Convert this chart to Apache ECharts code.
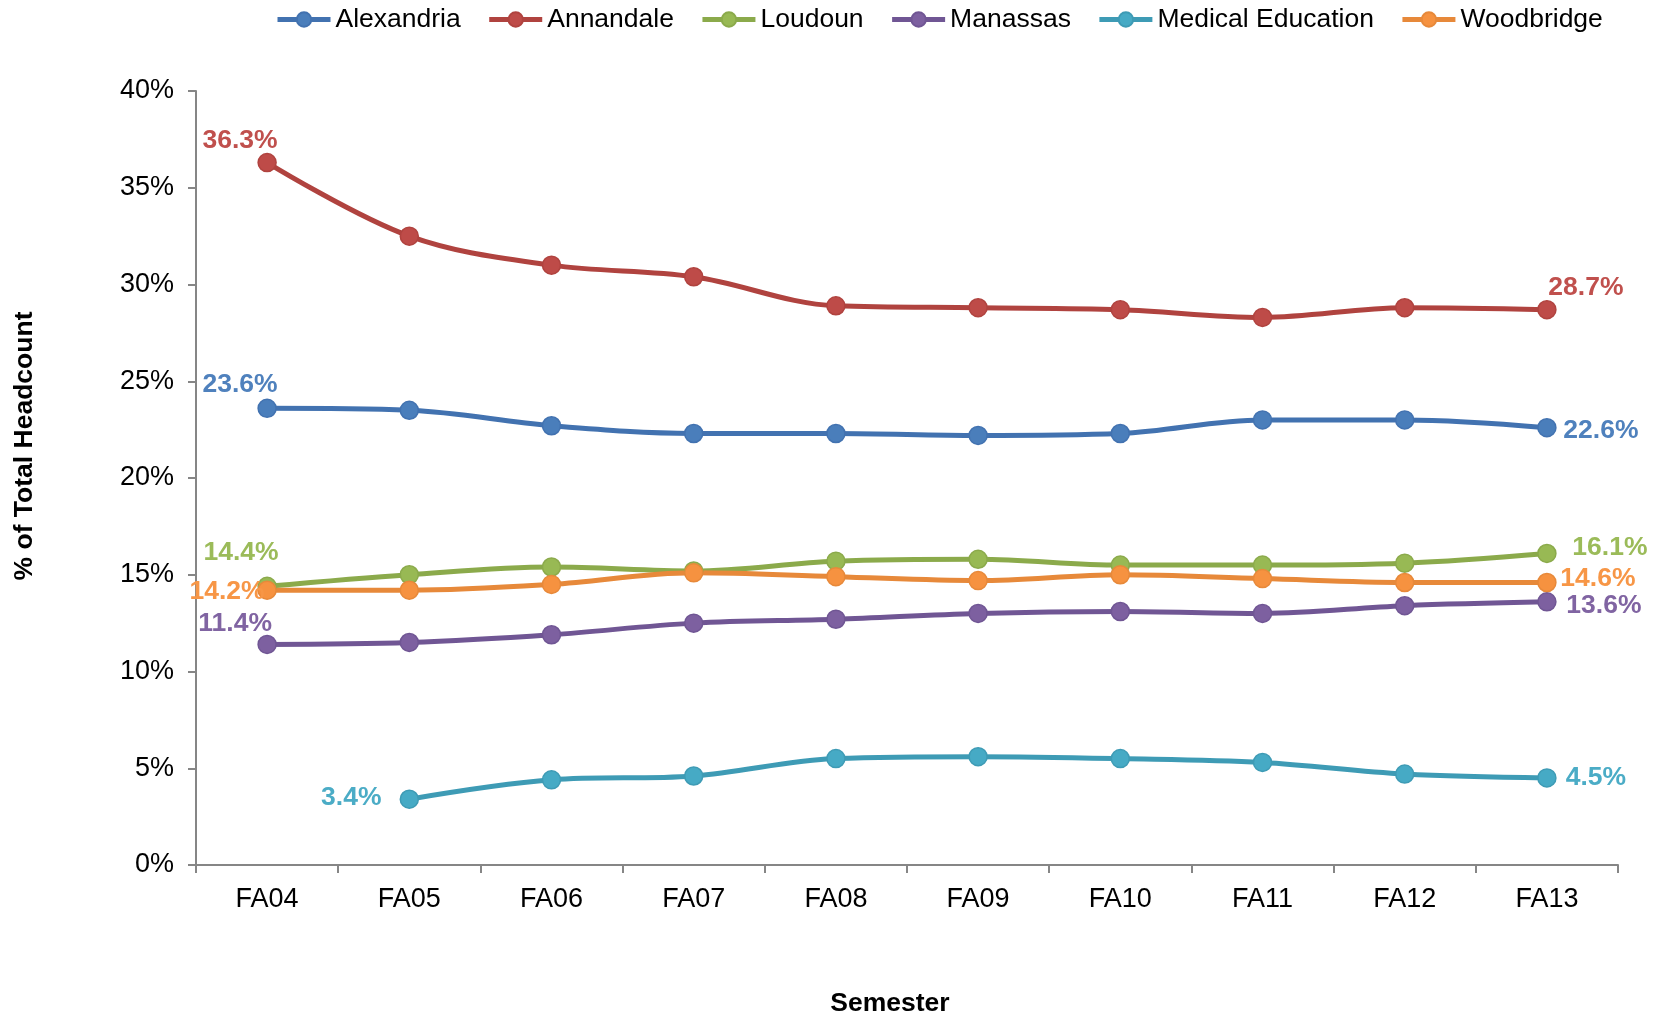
<!DOCTYPE html>
<html>
<head>
<meta charset="utf-8">
<script src="https://cdn.jsdelivr.net/npm/echarts@6/dist/echarts.min.js"></script>
<style>
  html, body { margin: 0; padding: 0; background: #ffffff; }
  #chart { width: 1658px; height: 1021px; }
</style>
</head>
<body>
<div id="chart"></div>
<script>
// Share of total headcount by campus, fall semesters
const semesters = ['FA04', 'FA05', 'FA06', 'FA07', 'FA08', 'FA09', 'FA10', 'FA11', 'FA12', 'FA13'];

const alexandria = [23.6, 23.5, 22.7, 22.3, 22.3, 22.2, 22.3, 23.0, 23.0, 22.6];
const annandale = [36.3, 32.5, 31.0, 30.4, 28.9, 28.8, 28.7, 28.3, 28.8, 28.7];
const loudoun = [14.4, 15.0, 15.4, 15.2, 15.7, 15.8, 15.5, 15.5, 15.6, 16.1];
const manassas = [11.4, 11.5, 11.9, 12.5, 12.7, 13.0, 13.1, 13.0, 13.4, 13.6];
const medicalEducation = [null, 3.4, 4.4, 4.6, 5.5, 5.6, 5.5, 5.3, 4.7, 4.5];
const woodbridge = [14.2, 14.2, 14.5, 15.1, 14.9, 14.7, 15.0, 14.8, 14.6, 14.6];

const yTicks = [0, 5, 10, 15, 20, 25, 30, 35, 40];

const FONT = '"Liberation Sans", Arial, sans-serif';

// Per-series styling: line colour, marker fill, label colour, end-label offsets
const seriesDefs = [
  { name: 'Alexandria', data: alexandria, line: '#4272B0', fill: '#4A7EBB', text: '#4F81BD',
    firstOffset: [-27, -24], lastOffset: [54, 3] },
  { name: 'Annandale', data: annandale, line: '#B0433F', fill: '#BE4B48', text: '#C0504D',
    firstOffset: [-27, -22], lastOffset: [39, -22] },
  { name: 'Loudoun', data: loudoun, line: '#8BAA4B', fill: '#98B954', text: '#9BBB59',
    firstOffset: [-26, -34], lastOffset: [63, -6] },
  { name: 'Manassas', data: manassas, line: '#705694', fill: '#7D60A0', text: '#8064A2',
    firstOffset: [-32, -21], lastOffset: [57, 4] },
  { name: 'Medical Education', data: medicalEducation, line: '#3E9BB5', fill: '#46AAC5', text: '#4BACC6',
    firstOffset: [-58, -2], lastOffset: [49, 0] },
  { name: 'Woodbridge', data: woodbridge, line: '#E7893A', fill: '#F69240', text: '#F79646',
    firstOffset: [-40, 1], lastOffset: [51, -4] }
];

function buildData(def) {
  const idx = def.data.map((v, i) => (v == null ? -1 : i)).filter(i => i >= 0);
  const first = idx[0], last = idx[idx.length - 1];
  return def.data.map((v, i) => {
    if (v == null) return null;
    if (i !== first && i !== last) return v;
    return {
      value: v,
      label: {
        show: true,
        position: 'inside',
        offset: i === first ? def.firstOffset : def.lastOffset,
        formatter: p => p.value.toFixed(1) + '%',
        color: def.text,
        fontFamily: FONT,
        fontWeight: 'bold',
        fontSize: 26.5
      }
    };
  });
}

const series = seriesDefs.map(def => ({
  name: def.name,
  type: 'line',
  data: buildData(def),
  smooth: 0.35,
  symbol: 'circle',
  symbolSize: 18,
  connectNulls: false,
  lineStyle: { color: def.line, width: 5 },
  itemStyle: { color: def.fill, borderColor: def.line, borderWidth: 1.5 },
  emphasis: { disabled: true },
  z: 2
}));

const chart = echarts.init(document.getElementById('chart'));
chart.setOption({
  animation: false,
  backgroundColor: '#ffffff',
  grid: { left: 196, right: 40, top: 91, bottom: 156, containLabel: false },
  legend: {
    top: 1,
    left: 270,
    itemWidth: 53,
    itemHeight: 18,
    itemGap: 26,
    lineStyle: { width: 5 },
    textStyle: { fontFamily: FONT, fontSize: 26.5, color: '#000000' },
    data: seriesDefs.map(d => d.name)
  },
  xAxis: {
    type: 'category',
    data: semesters,
    boundaryGap: true,
    axisLine: { lineStyle: { color: '#868686', width: 2 } },
    axisTick: { show: true, length: 8, inside: false, alignWithLabel: false,
      lineStyle: { color: '#868686', width: 2 } },
    axisLabel: { color: '#000000', fontFamily: FONT, fontSize: 27, margin: 21 },
    splitLine: { show: false }
  },
  yAxis: {
    type: 'value',
    min: yTicks[0],
    max: yTicks[yTicks.length - 1],
    interval: yTicks[1] - yTicks[0],
    axisLine: { show: true, lineStyle: { color: '#868686', width: 2 } },
    axisTick: { show: true, length: 8, lineStyle: { color: '#868686', width: 2 } },
    axisLabel: { color: '#000000', fontFamily: FONT, fontSize: 27, margin: 22,
      formatter: v => v + '%' },
    splitLine: { show: false }
  },
  graphic: [
    {
      type: 'text',
      rotation: Math.PI / 2,
      x: 25,
      y: 446,
      style: {
        text: '% of Total Headcount',
        font: 'bold 26.5px ' + FONT,
        fill: '#000000',
        align: 'center',
        verticalAlign: 'middle'
      }
    },
    {
      type: 'text',
      x: 890,
      y: 1004,
      style: {
        text: 'Semester',
        font: 'bold 26.5px ' + FONT,
        fill: '#000000',
        align: 'center',
        verticalAlign: 'middle'
      }
    }
  ],
  series: series
});
</script>
</body>
</html>
